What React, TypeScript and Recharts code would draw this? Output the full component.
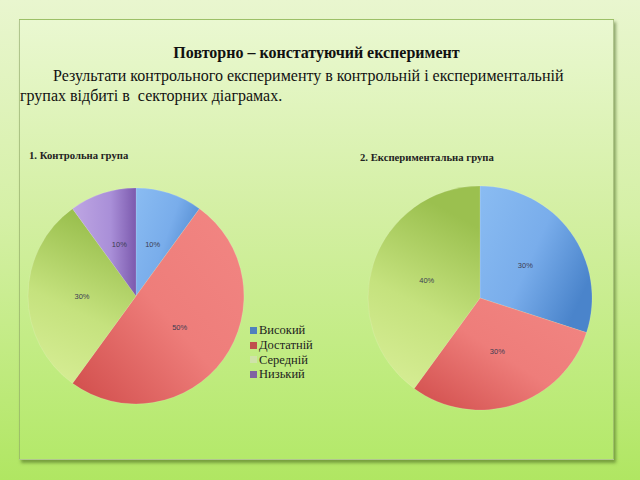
import React from 'react';
import { PieChart, Pie, Cell, Legend } from 'recharts';

const categories = ['Високий', 'Достатній', 'Середній', 'Низький'];
const controlValues = [10, 50, 30, 10];
const experimentalValues = [30, 30, 40, 0];
const headingText = 'Повторно – констатуючий експеримент';
const paragraphLine1 = 'Результати контрольного експерименту в контрольній і експериментальній';
const paragraphLine2 = 'групах відбиті в  секторних діаграмах.';
const chartTitles = ['1. Контрольна група', '2. Експериментальна група'];

const gradientIds = ['gBlue', 'gRed', 'gGreen', 'gPurple'];
const legendColors = ['#4f81bd', '#c0504d', '#cfe3a8', '#8064a2'];

const controlData = categories.map((name, i) => ({ name, value: controlValues[i] }));
const experimentalData = categories.map((name, i) => ({ name, value: experimentalValues[i] }));

const SERIF = "'Liberation Serif', 'Times New Roman', Times, serif";

const RADIAN = Math.PI / 180;
const renderLabel = (props: any) => {
  const { cx, cy, midAngle, outerRadius, value } = props;
  if (!value) return null;
  const r = outerRadius * 0.5;
  const x = cx + r * Math.cos(-midAngle * RADIAN);
  const y = cy + r * Math.sin(-midAngle * RADIAN);
  return (
    <text x={x} y={y} fill="#3c3c52" fontSize={7.5} fontFamily="'Liberation Sans', Arial, sans-serif" textAnchor="middle" dominantBaseline="central">
      {value + '%'}
    </text>
  );
};

const LegendContent = () => (
  <div style={{ fontFamily: SERIF, fontSize: 12.5, color: '#1e1e1e', lineHeight: '14.8px' }}>
    {categories.map((c, i) => (
      <div key={c} style={{ display: 'flex', alignItems: 'center' }}>
        <span style={{ display: 'inline-block', width: 7, height: 7, background: legendColors[i], marginRight: 2 }} />
        <span>{c}</span>
      </div>
    ))}
  </div>
);

export default function App() {
  return (
    <div style={{ position: 'absolute', left: 0, top: 0, width: 640, height: 480, overflow: 'hidden', background: 'linear-gradient(to bottom, #e9f6cf 0%, #d5f0a6 45%, #b0e662 100%)' }}>
      <div style={{ position: 'absolute', left: 19, top: 19, width: 595, height: 441, boxSizing: 'border-box', border: '1px solid rgba(140,165,100,0.6)', boxShadow: '2px 3px 3px rgba(70,100,30,0.55)', background: 'linear-gradient(to bottom, #eaf8d1 0%, #d3efa2 45%, #b4e96a 100%)' }} />
      <div style={{ position: 'absolute', left: 19, top: 43, width: 595, textAlign: 'center', fontFamily: SERIF, fontWeight: 'bold', fontSize: 16, lineHeight: '20px', color: '#111' }}>
        {headingText}
      </div>
      <div style={{ position: 'absolute', left: 20, top: 66, width: 600, fontFamily: SERIF, fontSize: 16, lineHeight: '20px', color: '#111', whiteSpace: 'pre' }}>
        <div style={{ paddingLeft: 33 }}>{paragraphLine1}</div>
        <div>{paragraphLine2}</div>
      </div>
      <div style={{ position: 'absolute', left: 29, top: 149, fontFamily: SERIF, fontWeight: 'bold', fontSize: 10.7, color: '#222' }}>
        {chartTitles[0]}
      </div>
      <div style={{ position: 'absolute', left: 360, top: 151, fontFamily: SERIF, fontWeight: 'bold', fontSize: 10.7, color: '#222' }}>
        {chartTitles[1]}
      </div>
      <div style={{ position: 'absolute', left: 0, top: 0 }}>
        <PieChart width={640} height={480} margin={{ top: 0, right: 0, bottom: 0, left: 0 }}>
          <defs>
            <linearGradient id="gBlue" x1="0" y1="0" x2="1" y2="0.6">
              <stop offset="0%" stopColor="#8abcf2" />
              <stop offset="55%" stopColor="#79adeb" />
              <stop offset="100%" stopColor="#4a84cb" />
            </linearGradient>
            <linearGradient id="gRed" x1="1" y1="0" x2="0" y2="1">
              <stop offset="0%" stopColor="#f28683" />
              <stop offset="50%" stopColor="#ee7d7a" />
              <stop offset="100%" stopColor="#d04c4a" />
            </linearGradient>
            <linearGradient id="gGreen" x1="0" y1="1" x2="0.3" y2="0">
              <stop offset="0%" stopColor="#d9ef98" />
              <stop offset="50%" stopColor="#c5e27e" />
              <stop offset="100%" stopColor="#9bc04f" />
            </linearGradient>
            <linearGradient id="gPurple" x1="0" y1="0" x2="1" y2="0">
              <stop offset="0%" stopColor="#bea6e3" />
              <stop offset="60%" stopColor="#a98fd8" />
              <stop offset="100%" stopColor="#7c5aae" />
            </linearGradient>
          </defs>
          <Pie data={controlData} dataKey="value" nameKey="name" cx={136} cy={296} outerRadius={108} startAngle={90} endAngle={-270} stroke="rgba(255,255,255,0.25)" strokeWidth={0.5} label={renderLabel} labelLine={false} isAnimationActive={false}>
            {controlData.map((d, i) => (
              <Cell key={d.name} fill={`url(#${gradientIds[i]})`} />
            ))}
          </Pie>
          <Pie data={experimentalData} dataKey="value" nameKey="name" cx={480} cy={298} outerRadius={112} startAngle={90} endAngle={-270} stroke="rgba(255,255,255,0.25)" strokeWidth={0.5} label={renderLabel} labelLine={false} isAnimationActive={false}>
            {experimentalData.map((d, i) => (
              <Cell key={d.name} fill={`url(#${gradientIds[i]})`} />
            ))}
          </Pie>
          <Legend layout="vertical" align="right" verticalAlign="middle" content={LegendContent} wrapperStyle={{ left: 250, top: 323, right: 'auto', width: 80 }} />
        </PieChart>
      </div>
    </div>
  );
}
